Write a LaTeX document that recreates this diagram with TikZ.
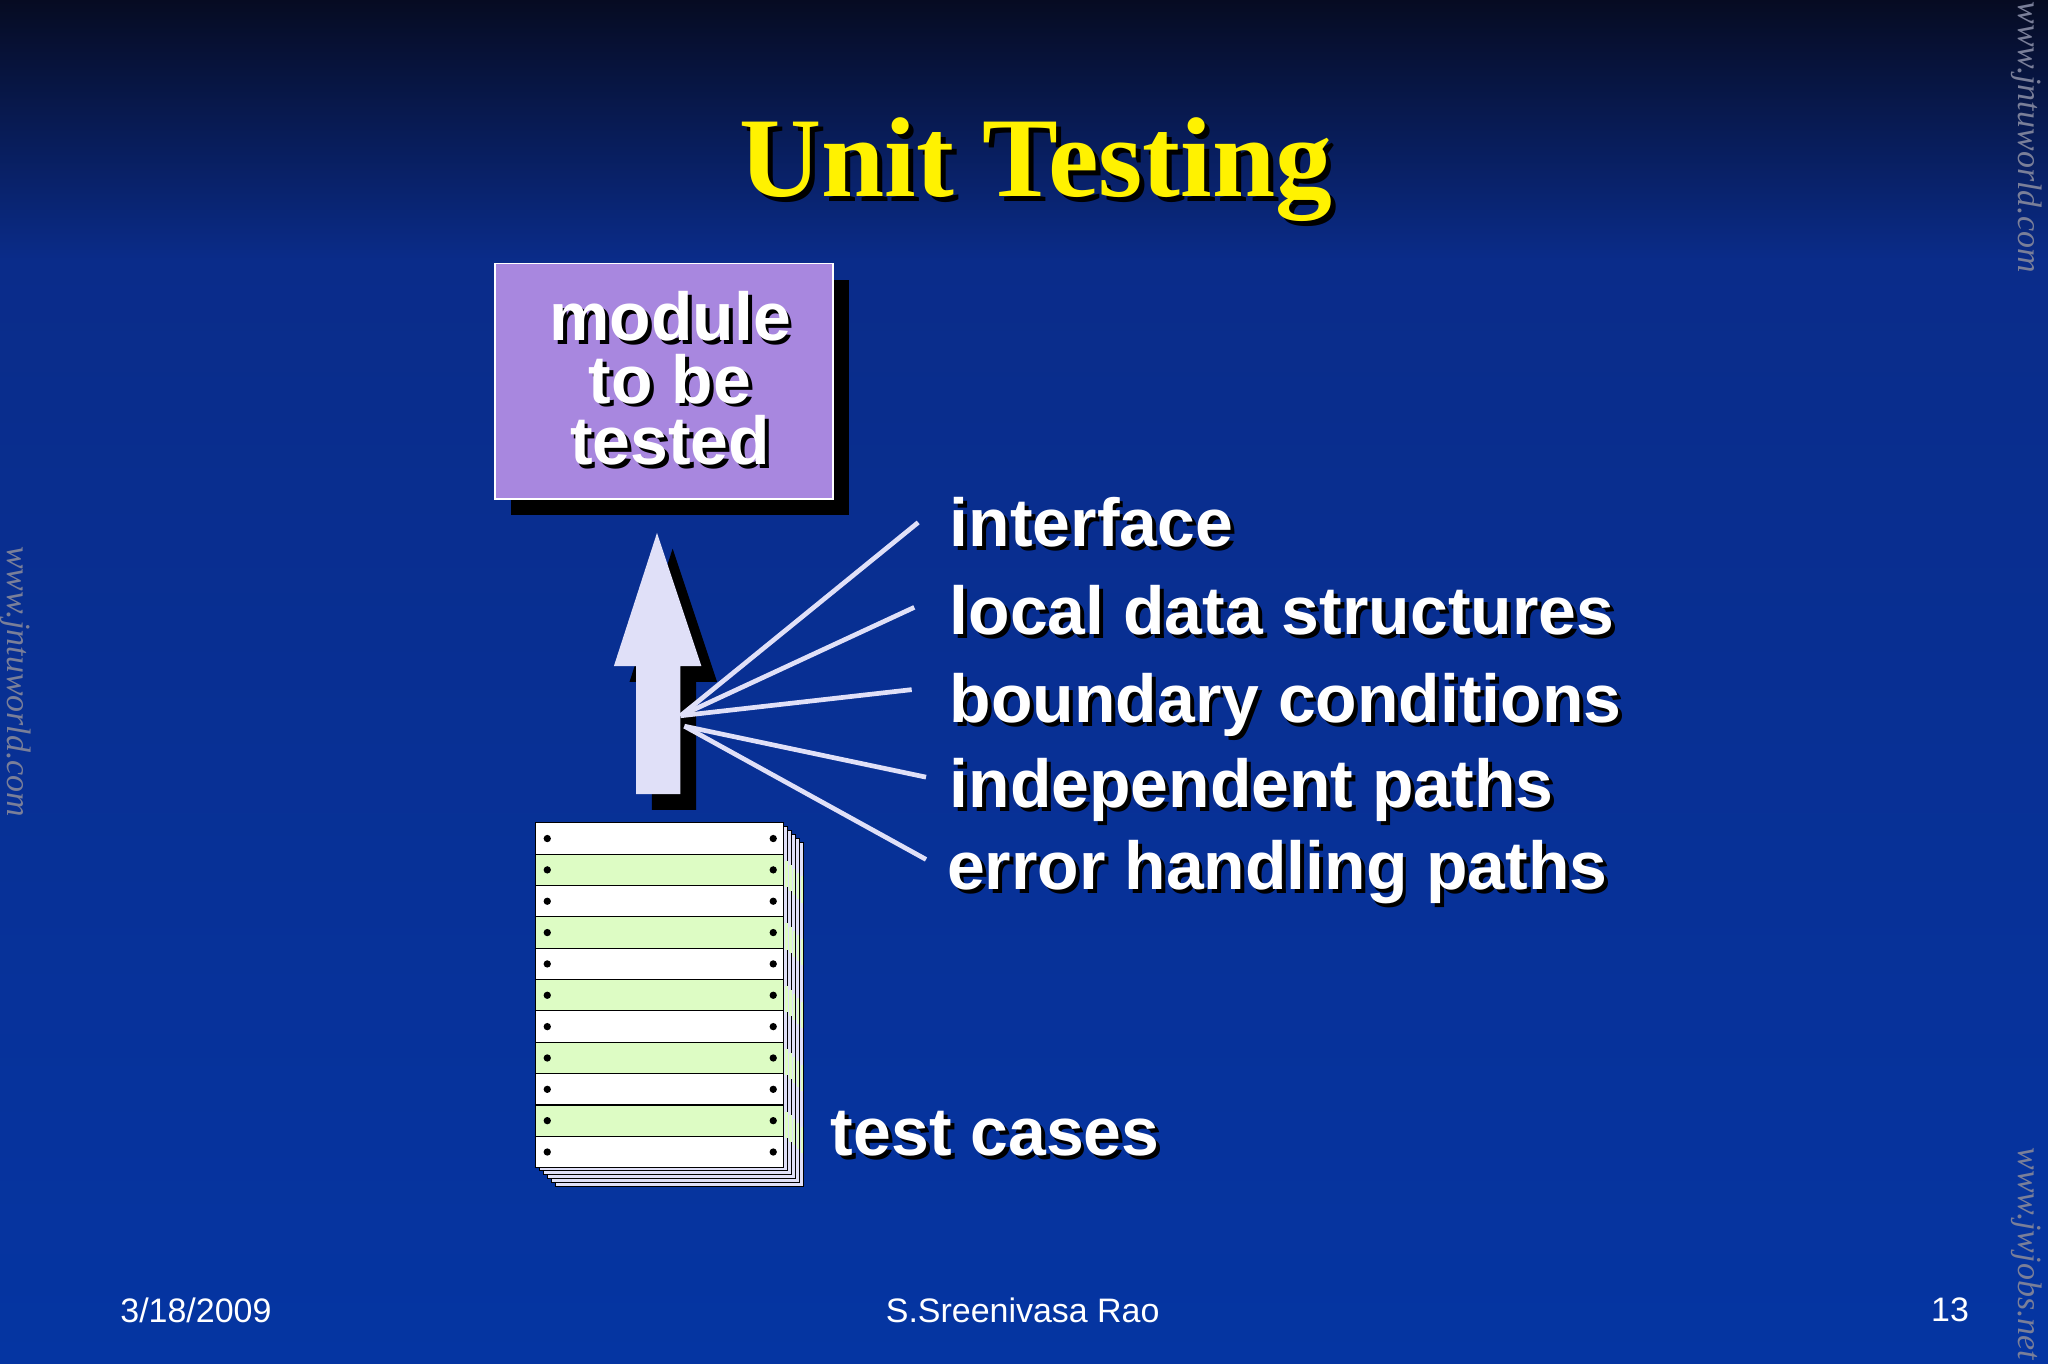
\documentclass[tikz,border=0pt]{standalone}
\usepackage{fontspec}
\setmainfont{Liberation Sans}
\newfontfamily\titlefont{Liberation Serif}
\usetikzlibrary{calc}
\definecolor{bgtop}{HTML}{060B22}
\definecolor{bgmid}{HTML}{0A2C8A}
\definecolor{bgbot}{HTML}{0535A2}
\definecolor{lav}{HTML}{A887DF}
\definecolor{arrowc}{HTML}{E0E0F8}
\definecolor{stripg}{HTML}{DDFCC4}
\definecolor{wm}{HTML}{7A7F99}
\tikzset{
  bodytxt/.style={text=white,font=\bfseries\fontsize{52}{54}\selectfont,anchor=west,inner sep=0pt},
  shadowtxt/.style={text=black,font=\bfseries\fontsize{52}{54}\selectfont,anchor=west,inner sep=0pt},
  ray/.style={draw=arrowc,line width=3.6pt},
  foot/.style={text=white,font=\fontsize{26}{28}\selectfont,inner sep=0pt},
  wmark/.style={text=wm,font=\titlefont\itshape\fontsize{26}{28}\selectfont,inner sep=0pt},
}
\newcommand{\shtext}[3]{%
  \node[shadowtxt] at ($(#1,#2)+(3,3)$) {#3};
  \node[bodytxt] (#1t#2) at (#1,#2) {#3};}
\begin{document}
\begin{tikzpicture}[x=1pt,y=-1pt]
\useasboundingbox (0,0) rectangle (1568,1044);
\shade[top color=bgtop,bottom color=bgmid] (0,0) rectangle (1568,200);
\shade[top color=bgmid,bottom color=bgbot] (0,200) rectangle (1568,1044);
% watermarks
\node[wmark,rotate=-90] (w1) at (1552,105) {www.jntuworld.com};
\node[wmark,rotate=-90] (w2) at (12,522) {www.jntuworld.com};
\node[wmark,rotate=-90] (w3) at (1552,960) {www.jwjobs.net};
% title
\node[text=black,font=\titlefont\bfseries\fontsize{87}{89}\selectfont] (titles) at (797,134) {Unit Testing};
\node[text=yellow,font=\titlefont\bfseries\fontsize{87}{89}\selectfont] (title) at (793,130) {Unit Testing};
% module box
\fill[black] (391,214) rectangle (650,394);
\node[draw=white,line width=1.5pt,fill=lav,minimum width=259pt,minimum height=180pt,inner sep=0pt,anchor=north west] (mod) at (378,201) {};
\foreach \t/\yy in {module/242,to be/290,tested/337}{
  \node[text=black,font=\bfseries\fontsize{52}{52}\selectfont,inner sep=0pt] at (516,\yy+3) {\t};
  \node[text=white,font=\bfseries\fontsize{52}{52}\selectfont,inner sep=0pt] at (513,\yy) {\t};
}
% arrow
\fill[black] (515,420) -- (549,522) -- (533,522) -- (533,620) -- (499,620) -- (499,522) -- (482,522) -- cycle;
\fill[arrowc] (503,408) -- (537,510) -- (521,510) -- (521,608) -- (487,608) -- (487,510) -- (470,510) -- cycle;
\coordinate (hub) at (521,548);
\coordinate (hub2) at (524,556);
\coordinate (e1) at (703,400);
\coordinate (e2) at (700,465);
\coordinate (e3) at (698,528);
\coordinate (e4) at (709,595);
\coordinate (e5) at (709,658);
\draw[ray] (hub) -- (e1);
\draw[ray] (hub) -- (e2);
\draw[ray] (hub) -- (e3);
\draw[ray] (hub2) -- (e4);
\draw[ray] (hub2) -- (e5);
% labels
\shtext{727}{400}{interface}
\shtext{727}{467}{local data structures}
\shtext{727}{540}{boundary conditions}
\shtext{727}{605}{independent paths}
\shtext{725}{668}{error handling paths}
\shtext{636}{868}{test cases}
% stack
\foreach \k in {5,4,3,2,1}{
  \fill[arrowc,draw=black,line width=0.5pt] (410+3*\k,630+3*\k) rectangle (600+3*\k,893+3*\k);
  \foreach \i in {0,...,10}{
    \pgfmathsetmacro{\ya}{630+3*\k+24*\i}
    \ifodd\i \fill[stripg] (600+3*\k-2,\ya+2) rectangle (600+3*\k,\ya+22);\fi
  }
}
\foreach \i in {0,...,10}{
  \pgfmathsetmacro{\ya}{630+24*\i}
  \ifodd\i \def\cc{stripg}\else\def\cc{white}\fi
  \fill[\cc,draw=black,line width=0.8pt] (410,\ya) rectangle (600,\ya+24);
  \fill[black] (419,\ya+12) circle (2.8pt);
  \fill[black] (592,\ya+12) circle (2.8pt);
}
\node[minimum width=190pt,minimum height=264pt,inner sep=0pt,anchor=north west] (stack) at (410,630) {};
% footer
\node[foot] (f1) at (150,1003) {3/18/2009};
\node[foot] (f2) at (783,1003) {S.Sreenivasa Rao};
\node[foot] (f3) at (1493,1003) {13};
\end{tikzpicture}
\end{document}
